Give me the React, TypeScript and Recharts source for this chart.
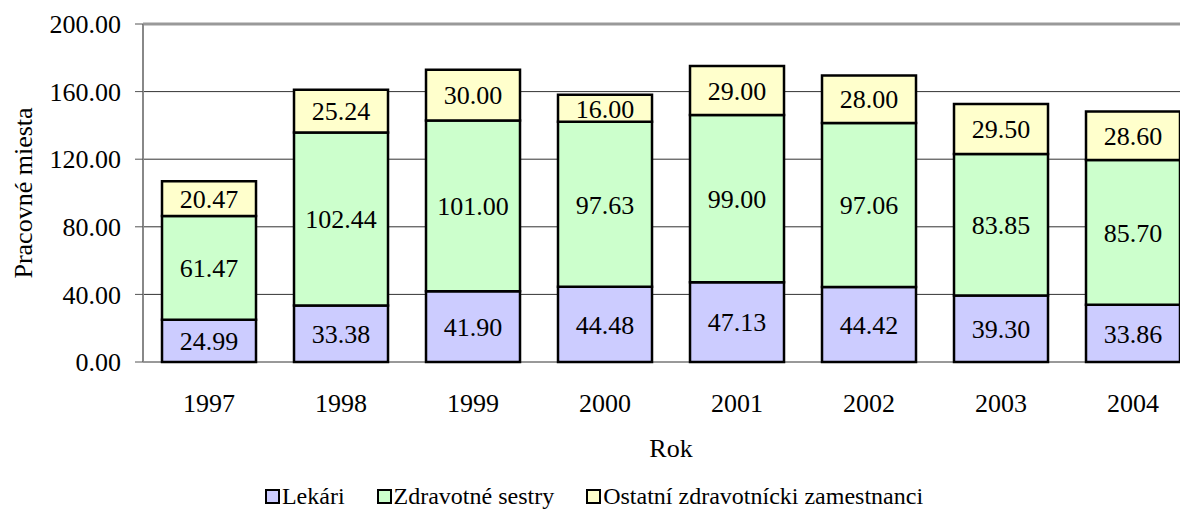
import React from "react";
import {
  BarChart,
  Bar,
  XAxis,
  YAxis,
  CartesianGrid,
  LabelList,
  ReferenceLine,
} from "recharts";

const YEARS = ["1997", "1998", "1999", "2000", "2001", "2002", "2003", "2004"];
const LEKARI = [24.99, 33.38, 41.9, 44.48, 47.13, 44.42, 39.3, 33.86];
const SESTRY = [61.47, 102.44, 101.0, 97.63, 99.0, 97.06, 83.85, 85.7];
const OSTATNI = [20.47, 25.24, 30.0, 16.0, 29.0, 28.0, 29.5, 28.6];
const SERIES_NAMES = ["Lekári", "Zdravotné sestry", "Ostatní zdravotnícki zamestnanci"];
const SERIES_KEYS = ["lekari", "sestry", "ostatni"];
const COLORS = ["#CCCCFF", "#CCFFCC", "#FFFFCC"];
const Y_TICKS = [0, 40, 80, 120, 160, 200];
const BOUNDARY_TICKS = [0, 1, 2, 3, 4, 5, 6, 7, 8];

const data = YEARS.map((year, i) => ({
  year,
  lekari: LEKARI[i],
  sestry: SESTRY[i],
  ostatni: OSTATNI[i],
}));

const FONT = "Liberation Serif";
const fmt = (v: any) => Number(v).toFixed(2);

const YLabel = (props: any) => {
  const vb = props.viewBox || { x: 0, y: 0, height: 0 };
  const x = vb.x + 24;
  const y = vb.y + vb.height / 2;
  return (
    <text
      x={x}
      y={y}
      transform={`rotate(-90 ${x} ${y})`}
      textAnchor="middle"
      fontSize={26}
      fontFamily={FONT}
      fill="#000"
    >
      Pracovné miesta
    </text>
  );
};

export default function App() {
  return (
    <div
      style={{
        position: "relative",
        width: 1180,
        height: 502,
        overflow: "hidden",
        fontFamily: FONT,
        background: "#fff",
      }}
    >
      <BarChart
        width={1200}
        height={502}
        data={data}
        margin={{ top: 16, right: 9, left: 0, bottom: 38 }}
        barCategoryGap="14.4%"
      >
        <CartesianGrid vertical={false} stroke="#333" strokeWidth={1} />
        <XAxis
          xAxisId="bounds"
          type="number"
          domain={[0, 8]}
          allowDataOverflow
          ticks={BOUNDARY_TICKS}
          interval={0}
          tick={false}
          tickSize={7}
          height={0}
          axisLine={{ stroke: "#888", strokeWidth: 2 }}
          tickLine={{ stroke: "#555", strokeWidth: 1 }}
        />
        <XAxis
          xAxisId="cat"
          dataKey="year"
          type="category"
          axisLine={false}
          tickLine={false}
          tickSize={0}
          tickMargin={32}
          height={110}
          interval={0}
          tick={{ fontSize: 26, fill: "#000", fontFamily: FONT }}
          label={{
            value: "Rok",
            position: "insideBottom",
            offset: 15,
            fontSize: 26,
            fill: "#000",
            fontFamily: FONT,
          }}
        />
        <YAxis
          type="number"
          domain={[0, 200]}
          ticks={Y_TICKS}
          interval={0}
          width={135}
          tickSize={8}
          tickMargin={14}
          tickFormatter={fmt}
          axisLine={{ stroke: "#888", strokeWidth: 2 }}
          tickLine={{ stroke: "#555", strokeWidth: 1 }}
          tick={{ fontSize: 26, fill: "#000", fontFamily: FONT }}
          label={<YLabel />}
        />
        <ReferenceLine xAxisId="cat" y={200} stroke="#999" strokeWidth={3} />
        {SERIES_KEYS.map((key, i) => (
          <Bar
            key={key}
            xAxisId="cat"
            dataKey={key}
            name={SERIES_NAMES[i]}
            stackId="a"
            fill={COLORS[i]}
            stroke="#000"
            strokeWidth={2.5}
            isAnimationActive={false}
          >
            <LabelList
              dataKey={key}
              position="center"
              formatter={fmt}
              fontSize={26}
              fill="#000"
              fontFamily={FONT}
            />
          </Bar>
        ))}
      </BarChart>
      <div
        style={{
          position: "absolute",
          left: 0,
          width: 1172,
          top: 475,
          height: 27,
          display: "flex",
          justifyContent: "center",
          alignItems: "center",
          fontSize: 24,
          lineHeight: "27px",
          color: "#000",
          fontFamily: FONT,
        }}
      >
        {SERIES_NAMES.map((name, i) => (
          <div
            key={name}
            style={{
              display: "flex",
              alignItems: "center",
              marginRight: i < SERIES_NAMES.length - 1 ? 32 : 0,
            }}
          >
            <span
              style={{
                display: "inline-block",
                width: 11,
                height: 11,
                border: "2px solid #000",
                background: COLORS[i],
                marginRight: 2,
              }}
            />
            <span>{name}</span>
          </div>
        ))}
      </div>
    </div>
  );
}
